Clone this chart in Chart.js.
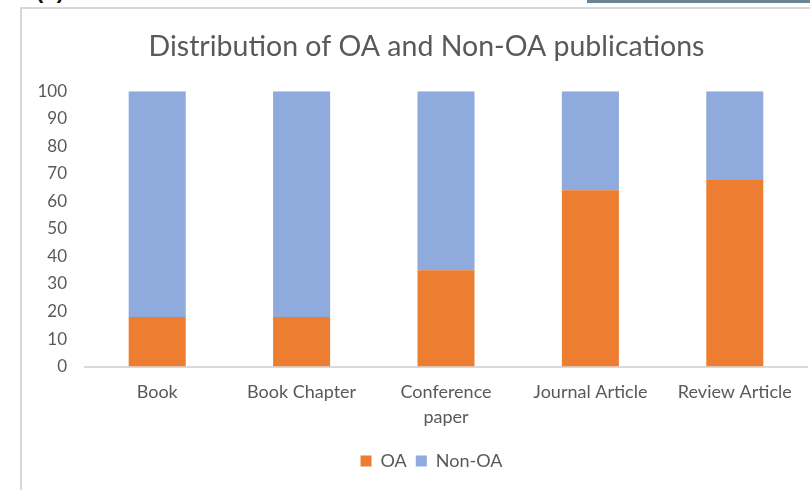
<!DOCTYPE html>
<html>
<head>
<meta charset="utf-8">
<script src="https://cdn.jsdelivr.net/npm/chart.js@4"></script>
<style>
  html, body { margin: 0; padding: 0; background: #fff; overflow: hidden; }
  #wrap { position: relative; width: 810px; height: 490px; }
  #frame { position: absolute; left: 20px; top: 7px; width: 800px; height: 500px;
           border-left: 2px solid #d9d9d9; border-top: 2px solid #d9d9d9; box-sizing: border-box; }
  #topbar { position: absolute; left: 587px; top: 0; width: 223px; height: 3px; background: #6b8596; }
  #label { position: absolute; left: 36px; top: -22px; font: bold 22px "Liberation Sans", sans-serif; color: #111; }
  canvas { position: absolute; left: 0; top: 0; }
</style>
</head>
<body>
<div id="wrap">
  <div id="label">(b)</div>
  <div id="topbar"></div>
  <div id="frame"></div>
  <canvas id="chart" width="810" height="490"></canvas>
</div>
<script>
const categories = ['Book', 'Book Chapter', ['Conference', 'paper'], 'Journal Article', 'Review Article'];
const oaValues = [18, 18, 35, 64, 68];
const nonOaValues = [82, 82, 65, 36, 32];
const yTicks = [0, 10, 20, 30, 40, 50, 60, 70, 80, 90, 100];

const textColor = '#595959';
const fontFamily = 'Lato, "Open Sans", sans-serif';

// Excel centres title and legend a bit right of the canvas middle
const shiftBoxes = {
    id: 'shiftBoxes',
    afterLayout(chart) {
        chart.legend.left += 28;
        chart.legend.right += 28;
        chart.titleBlock.left += 23;
        chart.titleBlock.right += 23;
    }
};

const ctx = document.getElementById('chart').getContext('2d');
new Chart(ctx, {
    type: 'bar',
    data: {
        labels: categories,
        datasets: [
            { label: 'OA', data: oaValues, backgroundColor: '#ED7D31', barPercentage: 0.395, categoryPercentage: 1 },
            { label: 'Non-OA', data: nonOaValues, backgroundColor: '#8FAADC', barPercentage: 0.395, categoryPercentage: 1 }
        ]
    },
    plugins: [shiftBoxes],
    options: {
        responsive: false,
        animation: false,
        layout: { padding: { left: 0, right: 3, top: 30, bottom: 10 } },
        plugins: {
            title: {
                display: true,
                text: 'Distribution of OA and Non-OA publications',
                color: textColor,
                font: { family: fontFamily, size: 28.5, weight: 'normal' },
                padding: { top: 0, bottom: 27 }
            },
            legend: {
                position: 'bottom',
                labels: {
                    color: textColor,
                    font: { family: fontFamily, size: 18 },
                    boxWidth: 11, boxHeight: 11,
                    padding: 9
                }
            },
            tooltip: { enabled: false }
        },
        scales: {
            x: {
                stacked: true,
                grid: { display: false, drawTicks: false },
                border: { display: true, color: '#d9d9d9', width: 2 },
                ticks: { color: textColor, font: { family: fontFamily, size: 18, lineHeight: 1.4 }, padding: 13, maxRotation: 0, autoSkip: false }
            },
            y: {
                stacked: true,
                min: 0, max: 100,
                afterFit: scale => { scale.width = 85; },
                afterBuildTicks: scale => { scale.ticks = yTicks.map(v => ({ value: v })); },
                grid: { display: false, drawTicks: false },
                border: { display: false },
                ticks: { color: textColor, font: { family: fontFamily, size: 17 }, padding: 18 }
            }
        }
    }
});
</script>
</body>
</html>
